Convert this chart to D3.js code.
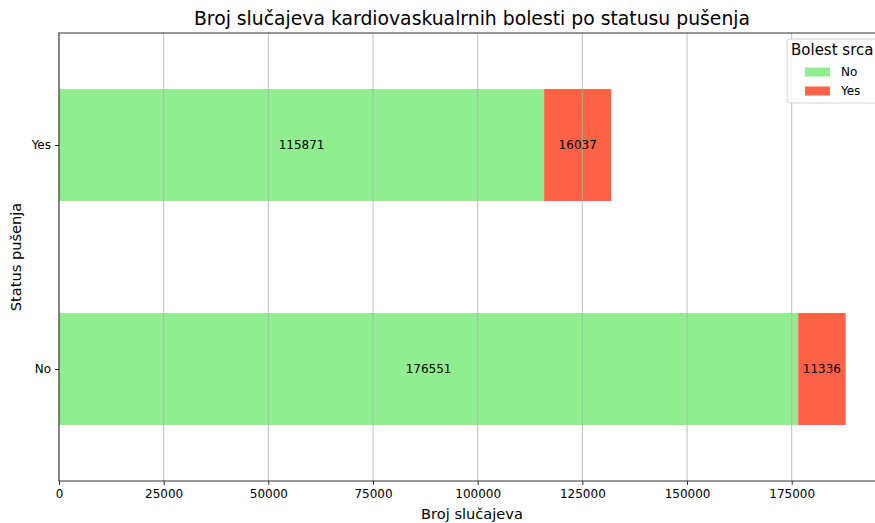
<!DOCTYPE html>
<html lang="hr">
<head>
<meta charset="UTF-8">
<title>Broj slučajeva kardiovaskualrnih bolesti po statusu pušenja</title>
<style>
    body { margin: 0; background: #fff; overflow: hidden; }
    svg { display: block; font-family: 'DejaVu Sans', sans-serif; }
</style>
<script src="https://d3js.org/d3.v7.min.js"></script>
</head>
<body>
<svg id="chart" width="875" height="523"></svg>
<script>
// podaci
const categories = ["No", "Yes"];           // status pušenja
const seriesNames = ["No", "Yes"];          // bolest srca
const valuesNo = [176551, 115871];          // bolest srca = No
const valuesYes = [11336, 16037];           // bolest srca = Yes
const xTicks = [0, 25000, 50000, 75000, 100000, 125000, 150000, 175000];
const colors = ["#90ee90", "#ff6347"];

const svg = d3.select("#chart");
const margin = { left: 59, top: 33, bottom: 42 };
const plotW = 826;   // desni rub izlazi izvan prozora
const plotH = 523 - margin.top - margin.bottom;

const totals = categories.map((c, i) => valuesNo[i] + valuesYes[i]);
const x = d3.scaleLinear().domain([0, d3.max(totals) * 1.05]).range([0, plotW]);
// kategorije odozdo prema gore, kao u matplotlibu
const y = d3.scaleLinear().domain([-0.5, categories.length - 0.5]).range([plotH, 0]);
const barH = y(0) - y(0.5);

const g = svg.append("g").attr("transform", `translate(${margin.left},${margin.top})`);

// stupci
const stacks = [valuesNo, valuesYes];
stacks.forEach((vals, s) => {
    g.selectAll(null)
        .data(categories)
        .enter()
        .append("rect")
        .attr("x", (d, i) => x(s === 0 ? 0 : valuesNo[i]))
        .attr("y", (d, i) => y(i) - barH / 2)
        .attr("width", (d, i) => x(vals[i]) - x(0))
        .attr("height", barH)
        .attr("fill", colors[s]);
});

// mreža iznad stupaca
g.selectAll("line.grid")
    .data(xTicks)
    .enter()
    .append("line")
    .attr("class", "grid")
    .attr("x1", d => x(d)).attr("x2", d => x(d))
    .attr("y1", 0).attr("y2", plotH)
    .attr("stroke", "#b0b0b0")
    .attr("stroke-width", 0.8);

// oznake vrijednosti
stacks.forEach((vals, s) => {
    g.selectAll(null)
        .data(categories)
        .enter()
        .append("text")
        .attr("x", (d, i) => {
            const start = s === 0 ? 0 : valuesNo[i];
            return x(start + vals[i] / 2);
        })
        .attr("y", (d, i) => y(i))
        .attr("dy", "0.35em")
        .attr("text-anchor", "middle")
        .attr("font-size", 12)
        .attr("fill", "#000")
        .text((d, i) => vals[i]);
});

// osi
const xAxis = d3.axisBottom(x).tickValues(xTicks).tickFormat(d3.format("d")).tickSize(4).tickPadding(4);
const gx = g.append("g").attr("transform", `translate(0,${plotH})`).call(xAxis);
const yAxis = d3.axisLeft(y).tickValues(categories.map((c, i) => i))
    .tickFormat(i => categories[i]).tickSize(4).tickPadding(4);
const gy = g.append("g").call(yAxis);
[gx, gy].forEach(a => {
    a.select(".domain").remove();
    a.selectAll("text").attr("font-size", 12).attr("fill", "#000").style("font-family", "'DejaVu Sans', sans-serif");
    a.selectAll("line").attr("stroke", "#000").attr("stroke-width", 0.8);
});

// okvir
g.append("rect")
    .attr("x", 0).attr("y", 0)
    .attr("width", plotW).attr("height", plotH)
    .attr("fill", "none")
    .attr("stroke", "#000")
    .attr("stroke-width", 0.8);

// naslovi
svg.append("text")
    .attr("x", margin.left + plotW / 2).attr("y", 25)
    .attr("text-anchor", "middle")
    .attr("font-size", 18.8)
    .text("Broj slučajeva kardiovaskualrnih bolesti po statusu pušenja");
svg.append("text")
    .attr("x", margin.left + plotW / 2).attr("y", 519)
    .attr("text-anchor", "middle")
    .attr("font-size", 14.6)
    .text("Broj slučajeva");
svg.append("text")
    .attr("transform", `translate(21,${margin.top + plotH / 2}) rotate(-90)`)
    .attr("text-anchor", "middle")
    .attr("font-size", 14.6)
    .text("Status pušenja");

// legenda
const leg = svg.append("g").attr("transform", "translate(787,39)");
leg.append("rect")
    .attr("width", 120).attr("height", 64)
    .attr("rx", 3)
    .attr("fill", "#fff").attr("fill-opacity", 0.8)
    .attr("stroke", "#d0d0d0");
leg.append("text")
    .attr("x", 4).attr("y", 16)
    .attr("font-size", 15)
    .text("Bolest srca");
seriesNames.forEach((name, i) => {
    const row = leg.append("g").attr("transform", `translate(18,${33 + i * 19})`);
    row.append("rect").attr("width", 25).attr("height", 9).attr("y", -4.5).attr("fill", colors[i]);
    row.append("text").attr("x", 36).attr("dy", "0.35em").attr("font-size", 12).text(name);
});
</script>
</body>
</html>
